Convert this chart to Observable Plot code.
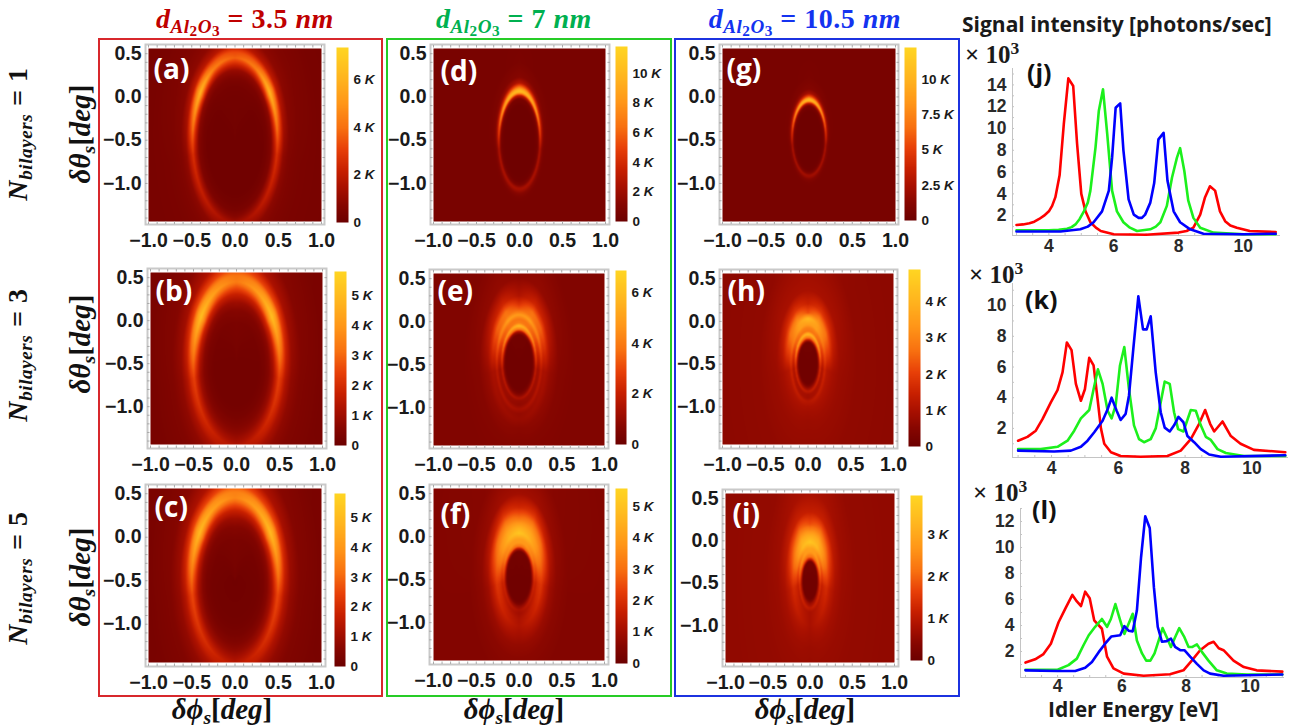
<!DOCTYPE html>
<html><head><meta charset="utf-8">
<script src="https://cdn.jsdelivr.net/npm/d3@7"></script>
<script src="https://cdn.jsdelivr.net/npm/@observablehq/plot@0.6"></script>
<style>
html,body{margin:0;padding:0;background:#fff}
#page{position:relative;width:1294px;height:728px;overflow:hidden;background:#fff}
#page>svg,#page>div{position:absolute}
svg{background:transparent!important;overflow:visible}
.box{box-sizing:border-box;border-style:solid;border-width:2px}
.m{font-family:"Liberation Serif",serif;font-weight:700;white-space:nowrap;line-height:1}
.m i{font-style:italic}.m sub{font-size:.68em;vertical-align:-.28em;line-height:0}.m sub sub{font-size:.8em;vertical-align:-.22em}
.rot{transform:translate(-50%,-50%) rotate(-90deg)}
.ctr{transform:translate(-50%,-50%)}
.t{font-family:"Open Sans",sans-serif;font-weight:700;color:#1a1a1a;white-space:nowrap;line-height:1}
</style></head><body><div id="page"></div>
<script>
// ---------- data: line spectra (idler energy eV, intensity x10^3) ----------
const jRed=[[3,1.15],[3.2,1.2],[3.4,1.3],[3.55,1.45],[3.7,1.7],[3.85,2],[4,2.4],[4.1,2.9],[4.2,3.7],[4.33,5.7],[4.46,10.4],[4.6,14.6],[4.75,13.9],[4.87,8.6],[5,4],[5.13,2.4],[5.28,1.4],[5.45,.9],[5.6,.6],[6,.3],[7,.25],[8,.45],[8.25,.6],[8.46,.9],[8.67,2.1],[8.82,3.7],[8.97,4.7],[9.13,4.3],[9.28,2.4],[9.44,1.5],[9.6,1.1],[9.8,.9],[10.2,.6],[11,.5]];
const jGreen=[[3,.65],[4,.65],[4.3,.7],[4.56,.8],[4.7,.95],[4.82,1.2],[4.95,1.7],[5.08,2.4],[5.2,3.2],[5.28,4.3],[5.44,8.3],[5.54,11.6],[5.67,13.6],[5.8,9.5],[5.95,4.3],[6.1,2.4],[6.3,1.4],[6.5,.9],[6.72,.6],[7.13,.75],[7.3,1],[7.44,1.4],[7.64,2.9],[7.8,5.5],[7.95,7.3],[8.05,8.2],[8.18,6.1],[8.3,3.4],[8.46,1.8],[8.67,.9],[9.08,.45],[10,.3],[11,.3]];
const jBlue=[[3,.55],[4.36,.55],[4.97,.75],[5.2,1],[5.38,1.4],[5.64,2.4],[5.85,4.3],[5.95,7.3],[6.06,11.9],[6.2,12.3],[6.3,8],[6.46,3.5],[6.62,2.1],[6.77,1.8],[6.87,1.8],[6.97,2.1],[7.13,3.2],[7.25,5],[7.38,9],[7.54,9.6],[7.66,5.2],[7.85,2.4],[8.05,1.4],[8.36,.75],[8.77,.35],[10,.3],[11,.35]];
const kRed=[[3,1.2],[3.28,1.45],[3.53,1.85],[3.73,2.6],[3.98,3.7],[4.18,4.5],[4.33,5.65],[4.46,7.6],[4.6,7.1],[4.73,4.9],[4.88,3.8],[5,4.55],[5.13,6.6],[5.26,6.1],[5.38,3.9],[5.48,2],[5.58,1],[5.78,.45],[6.07,.2],[6.67,.15],[7.47,.2],[7.87,.55],[8.17,1.3],[8.42,2.3],[8.6,3.2],[8.75,2.3],[8.87,1.8],[9.12,2.45],[9.37,1.5],[9.66,1],[10.06,.6],[11,.45]];
const kGreen=[[3,.65],[3.68,.65],[4.18,.8],[4.48,1.2],[4.68,1.85],[4.88,2.65],[5.13,3.2],[5.26,4.55],[5.39,5.85],[5.53,4.9],[5.68,3.15],[5.8,2.65],[5.92,3.5],[6.05,6.1],[6.18,7.3],[6.32,4.55],[6.47,2.2],[6.62,1.3],[6.77,1.1],[6.97,1.3],[7.12,2],[7.27,3.7],[7.39,5.05],[7.54,4.9],[7.67,3.05],[7.79,1.95],[7.95,1.8],[8.17,3.2],[8.32,3.15],[8.47,2.2],[8.62,1.45],[8.77,1.25],[8.97,.65],[9.22,.4],[9.76,.2],[11,.2]];
const kBlue=[[3,.55],[4.08,.5],[4.58,.55],[4.88,.8],[5.08,1.2],[5.28,1.75],[5.53,2.5],[5.68,3.25],[5.8,4],[5.95,3.15],[6.07,2.55],[6.22,2.95],[6.32,4.15],[6.45,7.2],[6.6,10.6],[6.74,8.45],[6.85,8.45],[6.97,9.3],[7.12,5.65],[7.27,3.05],[7.39,2.05],[7.54,1.8],[7.67,2.2],[7.8,2.75],[7.95,2.4],[8.07,1.5],[8.27,1.1],[8.47,.65],[8.72,.3],[9.07,.15],[11,.25]];
const lRed=[[3,1.15],[3.3,1.4],[3.56,1.8],[3.79,2.6],[4.03,4.25],[4.24,5.3],[4.46,6.35],[4.6,5.85],[4.73,5.5],[4.86,6.6],[5,6.1],[5.14,4.4],[5.38,3.75],[5.54,1.6],[5.74,.7],[6.06,.3],[6.68,.13],[7.5,.25],[7.92,.55],[8.18,1.3],[8.44,2.1],[8.7,2.6],[8.86,2.75],[9.02,2.25],[9.17,2.1],[9.48,1.3],[9.8,.8],[10.2,.55],[11,.45]];
const lGreen=[[3,.6],[4,.6],[4.34,.95],[4.6,1.45],[4.81,2.5],[4.97,3.25],[5.17,3.9],[5.38,4.5],[5.54,3.9],[5.66,4.5],[5.8,5.65],[5.95,4.4],[6.08,3.35],[6.19,4],[6.34,4.9],[6.47,2.85],[6.63,1.85],[6.76,1.3],[6.89,1.3],[7.02,1.85],[7.15,2.85],[7.27,3.8],[7.4,3.1],[7.53,2.35],[7.66,3.1],[7.79,3.8],[7.95,3.1],[8.08,2.35],[8.2,2.35],[8.34,2.55],[8.5,1.95],[8.7,1.3],[8.96,.55],[9.27,.3],[9.9,.23],[11,.23]];
const lBlue=[[3,.55],[4,.5],[4.55,.5],[4.86,.75],[5.07,1.2],[5.28,1.95],[5.48,2.6],[5.67,3.15],[5.95,3.25],[6.08,3.95],[6.21,3.6],[6.34,3.55],[6.47,5.15],[6.6,9.25],[6.73,12.4],[6.87,11.5],[7,6.95],[7.12,3.9],[7.25,2.75],[7.4,2.8],[7.53,3],[7.66,2.35],[7.82,2.1],[7.95,2.1],[8.13,1.6],[8.34,1.05],[8.55,.55],[8.75,.3],[9.17,.13],[11,.23]];
const jTicks=[2,4,6,8,10,12,14], kTicks=[2,4,6,8,10], lTicks=[2,4,6,8,10,12], energyTicks=[4,6,8,10];

// ---------- data: heat maps — radial intensity read along five directions ----------
// (share of colour-bar top) at elliptical radius stops; directions in degrees: down, side, mid, upper, up
const directions=[-90,-10,35,60,90];
const stopsSoft=[0,.5,.65,.75,.85,.93,1,1.07,1.15,1.28,1.5,2,3];
const profileA=[[.02,.02,.02,.03,.05,.1,.17,.14,.1,.08,.06,.05,.04],[.02,.02,.02,.04,.08,.22,.36,.26,.13,.08,.06,.05,.04],[.02,.02,.03,.05,.14,.48,.84,.6,.28,.12,.08,.05,.04],[.02,.03,.04,.06,.13,.36,.6,.48,.24,.12,.08,.05,.04],[.03,.03,.04,.07,.15,.34,.5,.44,.26,.14,.09,.06,.05]];
const profileB=[[.03,.03,.05,.08,.12,.17,.22,.21,.17,.12,.08,.06,.05],[.03,.03,.05,.09,.17,.3,.42,.35,.23,.13,.08,.05,.05],[.03,.04,.07,.14,.34,.66,.88,.74,.44,.2,.1,.06,.05],[.03,.05,.08,.14,.3,.52,.72,.64,.42,.22,.12,.07,.05],[.04,.06,.1,.17,.3,.45,.58,.56,.44,.28,.15,.08,.06]];
const profileC=[[.02,.03,.05,.08,.13,.19,.25,.24,.19,.13,.08,.06,.05],[.02,.03,.05,.1,.19,.33,.44,.36,.24,.14,.08,.05,.05],[.02,.04,.07,.14,.34,.64,.86,.72,.44,.2,.1,.06,.05],[.03,.05,.08,.14,.3,.52,.74,.65,.42,.22,.12,.07,.05],[.04,.06,.1,.17,.3,.47,.62,.6,.46,.28,.15,.08,.06]];
const stopsThin=[0,.7,.85,.92,.97,1,1.04,1.1,1.18,1.3,1.6,2.2,4];
const profileD=[[.01,.01,.02,.06,.15,.2,.17,.1,.06,.05,.05,.05,.05],[.01,.01,.03,.08,.18,.22,.18,.1,.06,.05,.05,.05,.05],[.01,.01,.05,.2,.55,.68,.55,.3,.12,.07,.05,.05,.05],[.01,.01,.05,.24,.65,.82,.72,.42,.17,.08,.05,.05,.05],[.01,.01,.05,.26,.68,.88,.82,.55,.24,.1,.06,.05,.05]];
const profileG=[[.01,.01,.02,.06,.14,.18,.15,.09,.06,.05,.05,.05,.05],[.01,.01,.03,.08,.18,.22,.16,.09,.06,.05,.05,.05,.05],[.01,.01,.05,.2,.5,.62,.5,.26,.11,.06,.05,.05,.05],[.01,.01,.05,.24,.62,.8,.68,.36,.15,.08,.05,.05,.05],[.01,.01,.05,.26,.68,.9,.8,.48,.2,.09,.06,.05,.05]];
const stopsE=[0,.9,1,1.08,1.2,1.3,1.42,1.57,1.72,1.9,2.2,2.8,4,7];
const profileE=[[.02,.02,.04,.09,.2,.14,.13,.19,.14,.15,.11,.09,.08,.08],[.02,.02,.05,.12,.28,.19,.18,.26,.2,.2,.15,.1,.08,.08],[.02,.02,.09,.32,.62,.47,.47,.6,.5,.5,.3,.13,.08,.08],[.02,.03,.15,.5,.75,.55,.56,.72,.58,.55,.33,.14,.09,.08],[.02,.03,.2,.55,.85,.6,.55,.7,.52,.38,.22,.12,.09,.08]];
const stopsH=[0,.9,1,1.1,1.26,1.4,1.55,1.7,1.95,2.2,2.6,3.2,5,9];
const profileH=[[.02,.02,.05,.13,.26,.18,.18,.24,.2,.18,.16,.15,.13,.12],[.02,.02,.07,.18,.35,.23,.24,.32,.24,.22,.19,.16,.13,.12],[.02,.02,.13,.38,.7,.5,.5,.6,.58,.55,.35,.2,.13,.12],[.02,.03,.2,.5,.8,.55,.6,.72,.72,.62,.38,.2,.14,.12],[.02,.03,.25,.55,.85,.55,.6,.72,.85,.46,.3,.2,.15,.13]];
const stopsF=[0,.9,1,1.08,1.22,1.35,1.56,1.8,2.1,2.5,3,4,7];
const profileF=[[.02,.02,.05,.12,.2,.18,.21,.22,.19,.14,.11,.09,.09],[.02,.02,.06,.16,.32,.3,.36,.38,.28,.17,.12,.09,.09],[.02,.03,.13,.36,.6,.6,.68,.66,.55,.3,.15,.1,.09],[.02,.03,.2,.5,.68,.7,.82,.76,.62,.38,.18,.11,.09],[.02,.04,.25,.55,.7,.72,.92,.78,.55,.32,.18,.11,.09]];
const stopsI=[0,.9,1,1.12,1.35,1.55,1.83,2.2,2.7,3.3,4.2,6,12];
const profileI=[[.02,.02,.06,.15,.26,.2,.2,.2,.18,.16,.15,.14,.13],[.02,.02,.08,.2,.36,.28,.32,.34,.26,.2,.16,.14,.13],[.02,.03,.15,.4,.65,.55,.68,.65,.48,.28,.18,.14,.13],[.02,.03,.25,.5,.7,.7,.85,.78,.55,.3,.2,.15,.13],[.02,.04,.28,.55,.7,.75,.92,.75,.45,.28,.2,.15,.14]];
// ring centre (deg) and semi-axes (deg)
const ringA=[-.5,.49,.95], ringB=[-.5,.5,.95], ringC=[-.5,.5,.95], ringD=[-.5,.24,.56], ringG=[-.475,.195,.435], ringE=[-.47,.165,.35], ringH=[-.485,.115,.265], ringF=[-.46,.145,.32], ringI=[-.465,.09,.245];
// colour bars
const barMax={a:7.37,b:5.8,c:5.83,d:11.8,e:6.87,f:5.57,g:12.25,h:4.9,i:3.93};
const barTicks={a:[0,2,4,6],b:[0,1,2,3,4,5],c:[0,1,2,3,4,5],d:[0,2,4,6,8,10],e:[0,2,4,6],f:[0,1,2,3,4,5],g:[0,2.5,5,7.5,10],h:[0,1,2,3,4],i:[0,1,2,3]};
const colourShare=[0,.1,.2,.3,.42,.54,.68,.82,1];
const colourStops=["#6c0000","#860600","#a81000","#c82000","#e84008","#f87010","#ff9618","#ffb41e","#ffd622"];
const angleTicks=[-1,-.5,0,.5,1], thetaTicks=[-1,-.5,0,.5];
const minorAngle=d3.range(-10,11).map(d=>d/10), minorTheta=d3.range(-14,6).map(d=>d/10);
// layout: image [left,right,top,bottom], gray frame, colour bar, panel-label spot
const layout={
a:{img:[148,321,48,221],fr:[145,324,44,224],cb:[336,348,47,222],lb:[153,70],s:stopsSoft,p:profileA,r:ringA},
b:{img:[150,322,272,444],fr:[147,326,268,448],cb:[334,346,271,445],lb:[155,292],s:stopsSoft,p:profileB,r:ringB},
c:{img:[148,321,488,662],fr:[145,325,484,666],cb:[334,345,493,666],lb:[154,508],s:stopsSoft,p:profileC,r:ringC},
d:{img:[433,605,48,221],fr:[430,609,44,224],cb:[615,627,46,221],lb:[440,72],s:stopsThin,p:profileD,r:ringD},
e:{img:[433,604,273,445],fr:[429,608,269,448],cb:[615,626,270,444],lb:[437,292],s:stopsE,p:profileE,r:ringE},
f:{img:[433,604,488,660],fr:[429,608,484,664],cb:[615,627,488,663],lb:[440,515],s:stopsF,p:profileF,r:ringF},
g:{img:[722,895,48,221],fr:[719,898,44,224],cb:[904,916,47,220],lb:[726,70],s:stopsThin,p:profileG,r:ringG},
h:{img:[722,893,273,444],fr:[719,897,269,448],cb:[908,920,269,446],lb:[727,292],s:stopsH,p:profileH,r:ringH},
i:{img:[725,894,493,662],fr:[722,898,489,666],cb:[910,922,495,660],lb:[732,515],s:stopsI,p:profileI,r:ringI}};

const page=document.getElementById("page");
const SANS='"Liberation Sans",Arial,sans-serif';
function html(cls,x,y,inner,extra=""){const d=document.createElement("div");d.className=cls;d.style.cssText=`left:${x}px;top:${y}px;${extra}`;d.innerHTML=inner;page.appendChild(d);return d;}
function place(svg,x,y){svg.style.left=x+"px";svg.style.top=y+"px";page.appendChild(svg);}

// outer coloured boxes
[[98,382,"#d8282c"],[386,671,"#26cc26"],[674,959,"#1c32e0"]].forEach(([l,r,c])=>html("box",l,38,"",`width:${r-l+1}px;height:${696-38+1}px;border-color:${c}`));

function fieldFor(stops,prof,ring){
  const [cy,rx,ry]=ring;
  const along=(row,rho)=>{
    if(rho>=stops[stops.length-1])return row[row.length-1];
    const i=d3.bisectRight(stops,rho);const t=(rho-stops[i-1])/(stops[i]-stops[i-1]);
    return row[i-1]+(row[i]-row[i-1])*t;};
  return (x,y)=>{
    const nx=x/rx,ny=(y-cy)/ry,rho=Math.hypot(nx,ny);
    const ang=Math.atan2(ny,Math.abs(nx))*180/Math.PI;
    const i=Math.min(directions.length-1,Math.max(1,d3.bisectRight(directions,ang)));
    const t=(ang-directions[i-1])/(directions[i]-directions[i-1]);
    return along(prof[i-1],rho)*(1-t)+along(prof[i],rho)*t;};
}
const colourFor=max=>({type:"linear",domain:colourShare.map(d=>d*max),range:colourStops,clamp:true});

Object.entries(layout).forEach(([key,L])=>{
  const [iL,iR,iT,iB]=L.img,[fL,fR,fT,fB]=L.fr,max=barMax[key];
  const ux=(iR-iL)/2,uy=(iB-iT)/2;
  const xDom=[-1-(iL-fL)/ux,1+(fR-iR)/ux], yDom=[-1.44-(fB-iB)/uy,.56+(iT-fT)/uy];
  const mL=60,mB=30,mT=2,mR=2;
  const f=fieldFor(L.s,L.p,L.r);
  const svg=Plot.plot({width:fR-fL+mL+mR,height:fB-fT+mT+mB,marginLeft:mL,marginRight:mR,marginTop:mT,marginBottom:mB,
    x:{domain:xDom,axis:null},y:{domain:yDom,axis:null},color:colourFor(max),
    marks:[
      Plot.raster({fill:(x,y)=>f(x,y)*max,x1:-1,x2:1,y1:-1.44,y2:.56,pixelSize:1}),
      Plot.frame({stroke:"#c9c9c9",strokeWidth:2}),
      Plot.axisX(minorAngle,{anchor:"bottom",tickSize:-2.5,stroke:"#aaa",text:null,label:null}),
      Plot.axisX(minorAngle,{anchor:"top",tickSize:-2.5,stroke:"#aaa",text:null,label:null}),
      Plot.axisY(minorTheta,{anchor:"left",tickSize:-2.5,stroke:"#aaa",text:null,label:null}),
      Plot.axisY(minorTheta,{anchor:"right",tickSize:-2.5,stroke:"#aaa",text:null,label:null}),
      Plot.axisX(angleTicks,{anchor:"bottom",tickSize:0,tickPadding:9,label:null,tickFormat:d3.format(".1f"),fontSize:19.5,fontWeight:700,fontFamily:SANS,fill:"#1a1a1a"}),
      Plot.axisY(thetaTicks,{anchor:"left",tickSize:0,tickPadding:4,label:null,tickFormat:d3.format(".1f"),fontSize:19.5,fontWeight:700,fontFamily:SANS,fill:"#1a1a1a"}),
      Plot.text([`(${key})`],{frameAnchor:"top-left",dx:L.lb[0]-fL,dy:L.lb[1]-fT,textAnchor:"start",lineAnchor:"middle",fill:"white",fontSize:28,fontWeight:700,fontFamily:'"Open Sans",sans-serif'})
    ]});
  svg.querySelectorAll("image").forEach(im=>im.style.filter="blur(.6px)");
  place(svg,fL-mL,fT-mT);

  const [cL,cR,cT,cB]=L.cb;
  const bar=Plot.plot({width:cR-cL+50,height:cB-cT+16,marginLeft:0,marginRight:50,marginTop:8,marginBottom:8,
    x:{domain:[0,1],axis:null},y:{domain:[0,max],axis:null},color:colourFor(max),
    marks:[
      Plot.raster({fill:(x,y)=>y,x1:0,x2:1,y1:0,y2:max,pixelSize:1}),
      Plot.axisY(barTicks[key],{anchor:"right",tickSize:0,tickPadding:5,label:null,tickFormat:d=>d===0?"0":`${d} K`,fontSize:13.5,fontWeight:700,fontFamily:SANS,fill:"#1a1a1a"})
    ]});
  bar.querySelectorAll("text").forEach(t=>{const s=t.querySelector("tspan")||t;const m=s.textContent.match(/^(.*) K$/);
    if(m){s.textContent=m[1]+" ";const k=document.createElementNS("http://www.w3.org/2000/svg","tspan");k.setAttribute("font-style","italic");k.textContent="K";s.appendChild(k);}});
  place(bar,cL,cT-8);
});

// headers
const Al='<i>d</i><sub><i>Al</i><sub>2</sub><i>O</i><sub>3</sub></sub>';
[[245,"#c00000","3.5"],[514,"#00b050","7"],[805,"#1433f0","10.5"]].forEach(([x,c,v])=>
  html("m ctr",x,19,`${Al} = ${v} <i>nm</i>`,`color:${c};font-size:28px;letter-spacing:.5px`));
[[18,134,"1"],[18,355,"3"],[18,578,"5"]].forEach(([x,y,n])=>
  html("m rot",x,y,`<i>N</i><sub><i>bilayers</i></sub> = ${n}`,"color:#111;font-size:28px;letter-spacing:.6px"));
[[80,134],[80,344],[80,577]].forEach(([x,y])=>
  html("m rot",x,y,'<i>δθ</i><sub><i>s</i></sub>[<i>deg</i>]',"color:#111;font-size:29px"));
[222,514,805].forEach(x=>html("m ctr",x,709,'<i>δϕ</i><sub><i>s</i></sub>[<i>deg</i>]',"color:#111;font-size:29px"));

// spectra
function spectrum(red,green,blue,yt,box,x3,xPer,y0,yPer,pad){
  const [l,r,t,b]=box,mL=30,mB=24,mT=2,mR=4;
  const xDom=[3+(l-x3)/xPer,3+(r-x3)/xPer], yDom=[(y0-b)/yPer,(y0-t)/yPer];
  const svg=Plot.plot({width:r-l+mL+mR,height:b-t+mT+mB,marginLeft:mL,marginRight:mR,marginTop:mT,marginBottom:mB,
    x:{domain:xDom,axis:null},y:{domain:yDom,axis:null},
    marks:[
      Plot.ruleX([xDom[0]],{stroke:"#c4c4c4"}),Plot.ruleY([yDom[0]],{stroke:"#c4c4c4"}),
      Plot.axisY(d3.range(1,Math.floor(yDom[1])+1),{anchor:"left",tickSize:-2,stroke:"#c4c4c4",text:null,label:null}),
      Plot.axisX(d3.range(6,23).map(d=>d/2),{anchor:"bottom",tickSize:-2,stroke:"#c4c4c4",text:null,label:null}),
      Plot.axisY(yt,{anchor:"left",tickSize:0,tickPadding:6,label:null,fontSize:17.5,fontWeight:700,fontFamily:SANS,fill:"#2a2a2a"}),
      Plot.axisX(energyTicks,{anchor:"bottom",tickSize:0,tickPadding:pad,label:null,fontSize:17.5,fontWeight:700,fontFamily:SANS,fill:"#2a2a2a"}),
      Plot.line(red,{stroke:"#ff0000",strokeWidth:2.6,strokeLinejoin:"round"}),
      Plot.line(green,{stroke:"#1cf01c",strokeWidth:2.6,strokeLinejoin:"round"}),
      Plot.line(blue,{stroke:"#0000ff",strokeWidth:2.6,strokeLinejoin:"round"})
    ]});
  place(svg,l-mL,t-mT);
}
spectrum(jRed,jGreen,jBlue,jTicks,[1012,1280,68,235],1016,32.4,237,10.9,4);
spectrum(kRed,kGreen,kBlue,kTicks,[1012,1288,283,457],1017.6,33.4,458.6,15.35,4);
spectrum(lRed,lGreen,lBlue,lTicks,[1020,1284,508,677],1025,32.1,677,13,2);

html("t",962,14,"Signal intensity [photons/sec]","font-size:21px");
html("t",1048,701,"Idler Energy [eV]","font-size:21px;line-height:.85");
[[965,42],[969,262],[973,480]].forEach(([x,y])=>html("m",x,y,'× 10<sup style="font-size:.7em;line-height:0">3</sup>',"color:#1a1a1a;font-size:25px"));
[[1027,60,"(j)"],[1025,287,"(k)"],[1032,497,"(l)"]].forEach(([x,y,s])=>html("t",x,y,s,"font-size:25px;color:#111"));
</script></body></html>
